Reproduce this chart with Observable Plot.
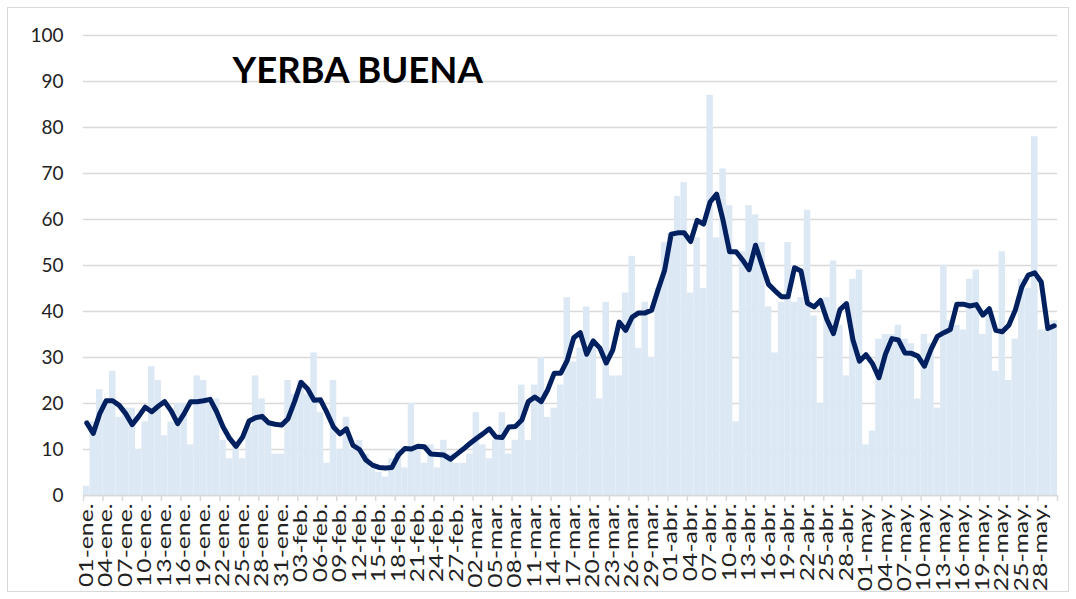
<!DOCTYPE html>
<html>
<head>
<meta charset="utf-8">
<script src="https://cdn.jsdelivr.net/npm/d3@7"></script>
<script src="https://cdn.jsdelivr.net/npm/@observablehq/plot@0.6"></script>
<style>
  html, body { margin: 0; padding: 0; background: #fff; }
  #wrap { position: relative; width: 1076px; height: 599px; overflow: hidden; }
  #frame { position: absolute; left: 7px; top: 7px; width: 1062px; height: 585px; border: 1.5px solid #d9d9d9; box-sizing: border-box; }
  #chart { position: absolute; left: 0; top: 0; }
</style>
</head>
<body>
<div id="wrap"><div id="frame"></div><div id="chart"></div></div>
<script>
const title = "YERBA BUENA";

// daily values, 01-ene .. 30-may (150 days)
const dailyValues = [
  2, 16, 23, 20, 27, 17, 19, 19, 10, 16, 28, 25, 13, 16, 20, 20, 11, 26, 25, 20,
  21, 12, 8, 11, 8, 15, 26, 21, 16, 9, 9, 25, 22, 25, 22, 31, 18, 7, 25, 10,
  17, 10, 12, 9, 6, 5, 4, 8, 10, 6, 20, 11, 7, 11, 6, 12, 9, 7, 7, 9,
  18, 11, 8, 12, 18, 9, 12, 24, 12, 24, 30, 17, 19, 24, 43, 29, 32, 41, 33, 21,
  42, 26, 26, 44, 52, 32, 42, 30, 45, 55, 57, 65, 68, 44, 56, 45, 87, 56, 71, 63,
  16, 53, 63, 61, 55, 41, 31, 42, 55, 42, 43, 62, 39, 20, 43, 51, 37, 26, 47, 49,
  11, 14, 34, 35, 35, 37, 34, 33, 21, 35, 33, 19, 50, 38, 37, 36, 47, 49, 35, 40,
  27, 53, 25, 34, 47, 45, 78, 36, 36, 38
];

// moving-average line
const averageValues = [
  15.8, 13.5, 17.8, 20.6, 20.6, 19.6, 17.8, 15.4, 17.2, 19.2, 18.2, 19.4, 20.4, 18.4, 15.6, 17.8, 20.4, 20.4, 20.6, 20.9,
  18.2, 14.9, 12.4, 10.7, 12.7, 16.2, 16.9, 17.2, 15.8, 15.5, 15.3, 16.7, 20.4, 24.6, 23.2, 20.7, 20.8, 18.0, 14.9, 13.4,
  14.5, 10.9, 10.0, 7.7, 6.6, 6.1, 6.0, 6.1, 8.8, 10.2, 10.1, 10.7, 10.6, 9.0, 8.9, 8.8, 7.9, 9.0, 10.1, 11.3,
  12.4, 13.4, 14.5, 12.7, 12.6, 14.9, 15.0, 16.4, 20.4, 21.4, 20.4, 23.0, 26.6, 26.6, 29.4, 34.3, 35.4, 30.7, 33.6, 32.1,
  28.8, 31.6, 37.7, 35.9, 38.8, 39.7, 39.7, 40.3, 44.8, 49.0, 56.8, 57.1, 57.1, 55.2, 59.8, 59.0, 63.8, 65.5, 59.8, 53.0,
  53.0, 51.2, 49.1, 54.4, 50.1, 45.9, 44.5, 43.2, 43.2, 49.5, 48.8, 41.8, 41.0, 42.4, 38.2, 35.2, 40.4, 41.7, 33.8, 29.2,
  30.6, 28.7, 25.6, 30.7, 34.1, 33.8, 31.0, 30.9, 30.3, 28.1, 31.7, 34.6, 35.4, 36.1, 41.6, 41.6, 41.2, 41.5, 39.2, 40.6,
  35.9, 35.6, 37.0, 40.3, 45.3, 47.9, 48.4, 46.4, 36.3, 36.9
];

// x tick labels (every third day)
const tickLabels = [
  "01-ene.", "04-ene.", "07-ene.", "10-ene.", "13-ene.", "16-ene.", "19-ene.", "22-ene.", "25-ene.", "28-ene.",
  "31-ene.", "03-feb.", "06-feb.", "09-feb.", "12-feb.", "15-feb.", "18-feb.", "21-feb.", "24-feb.", "27-feb.",
  "02-mar.", "05-mar.", "08-mar.", "11-mar.", "14-mar.", "17-mar.", "20-mar.", "23-mar.", "26-mar.", "29-mar.",
  "01-abr.", "04-abr.", "07-abr.", "10-abr.", "13-abr.", "16-abr.", "19-abr.", "22-abr.", "25-abr.", "28-abr.",
  "01-may.", "04-may.", "07-may.", "10-may.", "13-may.", "16-may.", "19-may.", "22-may.", "25-may.", "28-may."
];
const yTicks = [0, 10, 20, 30, 40, 50, 60, 70, 80, 90, 100];

const nDays = dailyValues.length;
const rows = dailyValues.map((v, i) => ({i, v, ma: averageValues[i]}));
const boundaries = d3.range(0, nDays + 1, 3);
const labelPositions = tickLabels.map((_, k) => 3 * k + 0.5);

const font = "Lato, 'Open Sans', sans-serif";

const chart = Plot.plot({
  width: 1076,
  height: 599,
  marginLeft: 83,
  marginRight: 19,
  marginTop: 35,
  marginBottom: 104,
  style: {fontFamily: font, background: "transparent", color: "#222"},
  x: {type: "linear", domain: [0, nDays], axis: null},
  y: {domain: [0, 100], axis: null},
  marks: [
    Plot.gridY(yTicks, {stroke: "#d9d9d9", strokeOpacity: 1, strokeWidth: 1.5}),
    Plot.rectY(rows, {x1: "i", x2: d => d.i + 1, y: "v", fill: "#dde8f5", inset: 0}),
    Plot.ruleY([0], {stroke: "#d9d9d9", strokeWidth: 1.5}),
    Plot.axisY(yTicks, {tickSize: 0, tickPadding: 20, fontSize: 19, fill: "#222", label: null}),
    Plot.axisX(boundaries, {tickSize: 6, tickFormat: () => "", stroke: "#d9d9d9", strokeWidth: 1.5, label: null}),
    Plot.axisX(labelPositions, {
      tickSize: 0, tickPadding: 8, tickRotate: -90, fontSize: 19, fill: "#222", label: null,
      tickFormat: d => tickLabels[Math.round((d - 0.5) / 3)]
    }),
    Plot.line(rows, {x: d => d.i + 0.5, y: "ma", stroke: "#002060", strokeWidth: 5,
      strokeLinejoin: "round", strokeLinecap: "round"}),
    Plot.text([title], {frameAnchor: "top-left", dx: 149, dy: 36, lineAnchor: "middle",
      textAnchor: "start", fontSize: 36.5, fontWeight: "bold", fill: "#000"})
  ]
});
// stretch the rotated day labels along their length, as in the reference
d3.select(chart).selectAll("text").each(function() {
  const own = this.getAttribute("transform") || "";
  const parent = this.parentNode && this.parentNode.getAttribute ? (this.parentNode.getAttribute("transform") || "") : "";
  if (own.includes("rotate")) {
    this.setAttribute("transform", own + " scale(1.3,1)");
  } else if (parent.includes("rotate") && tickLabels.includes(this.textContent)) {
    this.setAttribute("transform", (own ? own + " " : "") + "scale(1.3,1)");
  }
});
document.getElementById("chart").appendChild(chart);
</script>
</body>
</html>
